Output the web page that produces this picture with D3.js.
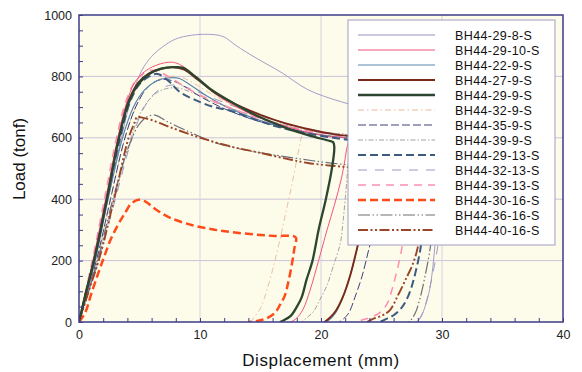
<!DOCTYPE html>
<html>
<head>
<meta charset="utf-8">
<script src="https://cdn.jsdelivr.net/npm/d3@7"></script>
<style>
  body { margin: 0; background: #fff; }
  svg { display: block; font-family: "Liberation Sans", Arial, sans-serif; }
</style>
</head>
<body>
<div id="chart"></div>
<script>
// load-displacement curves, [displacement (mm), load (tonf)]
const seriesNames = ["BH44-29-8-S", "BH44-29-10-S", "BH44-22-9-S", "BH44-27-9-S", "BH44-29-9-S",
  "BH44-32-9-S", "BH44-35-9-S", "BH44-39-9-S", "BH44-29-13-S", "BH44-32-13-S",
  "BH44-39-13-S", "BH44-30-16-S", "BH44-36-16-S", "BH44-40-16-S"];

const s29_8 = [[0,0],[0.7,100],[1.4,220],[2.4,400],[3.5,600],[4.4,740],[5.2,820],[6.0,865],[6.9,896],[8.0,922],[9.3,934],[10.7,937],[11.9,930],[13.0,900],[14.5,863],[16.8,811],[18.9,757],[21.7,717],[24.5,690],[27,672],[29.3,662],[29.5,560],[29.6,420],[29.5,300],[29.3,200],[29.0,110],[28.6,50],[28.2,12],[27.9,0]];
const s29_10 = [[0,0],[0.6,100],[1.2,210],[2.2,400],[3.2,600],[3.9,710],[4.6,780],[5.4,815],[6.3,835],[7.2,845],[7.9,845],[8.7,830],[9.7,795],[11,750],[12.5,712],[14.5,672],[16.5,645],[18.5,622],[20.5,605],[22.2,595],[22.1,560],[21.7,470],[21.1,380],[20.5,300],[19.8,200],[19.1,104],[18.5,40],[18,13],[17.5,0]];
const s22_9 = [[0,0],[0.7,100],[1.4,210],[2.4,400],[3.6,600],[4.5,700],[5.4,755],[6.4,785],[7.4,795],[8.3,793],[9.2,772],[10.5,738],[12.5,695],[15,656],[17.5,628],[20,610],[22.5,598],[24.5,590],[24.4,520],[24,420],[23.5,320],[23,240],[22.4,150],[21.8,80],[21.2,30],[20.6,5],[20.2,0]];
const s27_9 = [[0,0],[0.6,100],[1.3,210],[2.3,400],[3.3,600],[4.1,720],[4.9,780],[5.8,810],[6.8,825],[7.8,830],[8.7,822],[9.8,790],[11.2,748],[13,708],[15,675],[17,648],[19,628],[21,612],[23,603],[24.2,598],[24.1,520],[23.8,420],[23.4,320],[23,244],[22.4,150],[21.8,81],[21.2,35],[20.7,13],[20.3,0]];
const s29_9 = [[0,0],[0.6,100],[1.3,210],[2.3,400],[3.3,600],[4.1,715],[4.9,775],[5.8,808],[6.8,825],[7.8,830],[8.6,828],[9.6,800],[11,755],[12.8,712],[14.8,670],[17,634],[19,608],[20.5,592],[21,586],[21.1,570],[20.9,500],[20.4,400],[19.8,300],[19.3,200],[18.8,137],[18.4,80],[18,49],[17.5,20],[16.9,5],[16.6,0]];
const s32_9 = [[0,0],[0.7,100],[1.5,210],[2.6,400],[3.8,600],[4.7,700],[5.6,760],[6.6,790],[7.6,800],[8.6,795],[9.8,770],[11.5,730],[13.5,692],[15.5,660],[17.5,630],[18.4,618],[18.3,590],[18.0,528],[17.5,430],[17,340],[16.5,250],[16,170],[15.5,100],[15,45],[14.5,16],[14.2,0]];
const s35_9 = [[0,0],[0.7,100],[1.5,210],[2.6,400],[3.8,600],[4.8,710],[5.8,770],[6.8,790],[7.8,785],[8.8,765],[10,735],[12,695],[14.5,658],[17,632],[19.5,612],[22,600],[25,590],[24.9,500],[24.7,400],[24.4,300],[24,244],[23.4,150],[22.8,80],[22.3,30],[21.8,8],[21.5,0]];
const s39_9 = [[0,0],[0.8,100],[1.6,210],[2.9,400],[4.3,600],[5.2,690],[6.2,740],[7.2,760],[8.2,762],[9.3,748],[10.8,722],[13,690],[15.5,658],[18,632],[20.5,614],[22.3,605],[22.2,500],[22,400],[21.8,320],[21.6,257],[21,180],[20.5,120],[19.9,72],[19.4,35],[18.8,13],[18.4,0]];
const s29_13 = [[0,0],[0.6,100],[1.3,210],[2.3,400],[3.4,600],[4.2,715],[5.0,775],[5.8,800],[6.5,808],[7.4,785],[8.3,750],[9.5,725],[11,702],[12.5,688],[14.5,660],[16.5,635],[18.9,614],[21,600],[23,590],[26,578],[28.5,572],[28.7,480],[28.6,380],[28.4,300],[28.2,234],[27.8,160],[27.4,104],[26.9,60],[26.5,39],[26,22],[25.5,12],[25.1,4],[24.8,0]];
const s32_13 = [[0,0],[0.8,100],[1.7,210],[3,400],[4.4,600],[5.4,700],[6.4,750],[7.4,770],[8.4,770],[9.5,755],[11,730],[13,700],[15.5,665],[18,638],[21,615],[24,600],[28,588],[30.2,582],[30.2,480],[30,380],[29.8,300],[29.6,234],[29.2,150],[28.8,80],[28.4,30],[28,5],[27.8,0]];
const s39_13 = [[0,0],[0.6,110],[1.2,220],[2.1,400],[3.1,600],[3.8,710],[4.5,775],[5.2,805],[5.9,820],[6.6,815],[7.6,795],[9,760],[10.8,725],[13,690],[15.5,655],[18,630],[21,610],[24,598],[27.2,588],[27.3,480],[27.1,380],[26.9,300],[26.7,244],[26.3,170],[25.9,110],[25.5,62],[25,35],[24.3,18],[23.5,8],[23,0]];
const s30_16 = [[0,0],[0.5,29],[1,90],[1.6,160],[2.1,215],[2.6,267],[3.2,315],[3.8,355],[4.3,385],[4.9,398],[5.5,392],[6.3,368],[7.5,340],[9.3,316],[11,302],[12.6,293],[14.5,285],[16.2,280],[17.9,276],[17.8,240],[17.6,190],[17.3,130],[17,85],[16.6,55],[16.2,30],[15.5,12],[14.8,4],[14,0]];
const s36_16 = [[0,0],[0.8,100],[1.6,210],[2.8,400],[4.1,570],[4.9,640],[5.6,668],[6.3,674],[7.2,655],[8.8,625],[11.2,585],[13.5,562],[16,545],[18.5,530],[21,517],[24,507],[27,500],[29.4,495],[29.4,400],[29.2,300],[29,234],[28.6,150],[28.2,80],[27.8,30],[27.4,5],[27.2,0]];
const s40_16 = [[0,0],[0.8,100],[1.7,210],[2.9,400],[4.1,600],[4.6,650],[4.8,668],[5.3,665],[6,658],[7.5,635],[9.8,603],[12.5,572],[15.1,550],[17,533],[18.9,518],[22,505],[25,495],[28.3,488],[28.3,400],[28.2,300],[28,244],[27.6,190],[27.1,147],[26.4,90],[25.7,39],[25,20],[24.3,10],[23.8,0]];

const seriesData = [s29_8, s29_10, s22_9, s27_9, s29_9, s32_9, s35_9, s39_9,
  s29_13, s32_13, s39_13, s30_16, s36_16, s40_16];

const xTicks = [0, 10, 20, 30, 40];
const yTicks = [0, 200, 400, 600, 800, 1000];

// line styles, same order as seriesNames
const seriesStyles = [
  { color: "#9a92c4", width: 0.9, dash: null },
  { color: "#f2557e", width: 1.0, dash: null },
  { color: "#5a86ad", width: 1.2, dash: null },
  { color: "#7a2818", width: 1.9, dash: null },
  { color: "#2c4630", width: 2.3, dash: null },
  { color: "#e8b89c", width: 0.9, dash: "6,3,1.5,3" },
  { color: "#3e3e7c", width: 1.0, dash: "8,3" },
  { color: "#a2a2aa", width: 1.0, dash: "5,2,1.5,2" },
  { color: "#3c5a80", width: 2.0, dash: "8,4" },
  { color: "#9c9ac8", width: 1.0, dash: "9,8" },
  { color: "#ff8eb0", width: 1.5, dash: "8,6" },
  { color: "#ff4a1a", width: 2.5, dash: "8,4" },
  { color: "#6e6e76", width: 1.2, dash: "12,2.5,1.5,2.5,1.5,2.5" },
  { color: "#9a4428", width: 1.9, dash: "10,2.5,2,2.5,2,2.5" }
];
const drawOrder = [0, 9, 7, 5, 12, 6, 2, 10, 1, 13, 8, 3, 11, 4];

const W = 582, H = 372;
const plot = { left: 79, right: 563, top: 15, bottom: 322 };

const svg = d3.select("#chart").append("svg")
  .attr("width", W)
  .attr("height", H);

const x = d3.scaleLinear().domain([0, 40]).range([plot.left, plot.right]);
const y = d3.scaleLinear().domain([0, 1000]).range([plot.bottom, plot.top]);

svg.append("rect")
  .attr("x", plot.left).attr("y", plot.top)
  .attr("width", plot.right - plot.left)
  .attr("height", plot.bottom - plot.top)
  .attr("fill", "#fdfcea");

svg.append("defs").append("clipPath").attr("id", "clip")
  .append("rect")
  .attr("x", plot.left).attr("y", plot.top)
  .attr("width", plot.right - plot.left)
  .attr("height", plot.bottom - plot.top);

// grid
svg.append("g")
  .selectAll("line.hg")
  .data(yTicks.slice(1, -1))
  .join("line")
  .attr("x1", plot.left).attr("x2", plot.right)
  .attr("y1", d => y(d)).attr("y2", d => y(d))
  .attr("stroke", "#cbc3d9").attr("stroke-width", 1);

svg.append("g")
  .selectAll("line.vg")
  .data(xTicks.slice(1, -1))
  .join("line")
  .attr("y1", plot.top).attr("y2", plot.bottom)
  .attr("x1", d => x(d)).attr("x2", d => x(d))
  .attr("stroke", "#d6d0dc").attr("stroke-width", 1);

// curves
const line = d3.line()
  .x(d => x(d[0]))
  .y(d => y(d[1]))
  .curve(d3.curveCatmullRom.alpha(0.5));

const curves = svg.append("g").attr("clip-path", "url(#clip)");
drawOrder.forEach(i => {
  const st = seriesStyles[i];
  curves.append("path")
    .datum(seriesData[i])
    .attr("d", line)
    .attr("fill", "none")
    .attr("stroke", st.color)
    .attr("stroke-width", st.width)
    .attr("stroke-dasharray", st.dash)
    .attr("stroke-linejoin", "round");
});

// axes
const axisColor = "#3c3c88";

const xAxis = svg.append("g")
  .attr("transform", `translate(0,${plot.bottom})`)
  .call(d3.axisBottom(x).tickValues(xTicks).tickFormat(d3.format("d")).tickSize(0).tickPadding(8));
const yAxis = svg.append("g")
  .attr("transform", `translate(${plot.left},0)`)
  .call(d3.axisLeft(y).tickValues(yTicks).tickFormat(d3.format("d")).tickSize(0).tickPadding(7));

[xAxis, yAxis].forEach(a => {
  a.select(".domain").remove();
  a.selectAll("text")
    .attr("fill", "#222")
    .style("font-size", "12.5px")
    .style("font-family", "'Liberation Sans', Arial, sans-serif");
});

// minor ticks pointing into the plot
svg.append("g")
  .attr("transform", `translate(0,${plot.bottom})`)
  .call(d3.axisBottom(x).ticks(20).tickSize(-4).tickFormat(""))
  .call(g => g.select(".domain").remove())
  .selectAll("line").attr("stroke", axisColor);

svg.append("g")
  .attr("transform", `translate(${plot.left},0)`)
  .call(d3.axisLeft(y).ticks(25).tickSize(-4).tickFormat(""))
  .call(g => g.select(".domain").remove())
  .selectAll("line").attr("stroke", axisColor);

svg.append("rect")
  .attr("x", plot.left).attr("y", plot.top)
  .attr("width", plot.right - plot.left)
  .attr("height", plot.bottom - plot.top)
  .attr("fill", "none")
  .attr("stroke", axisColor)
  .attr("stroke-width", 1.5);

// axis titles
svg.append("text")
  .attr("x", (plot.left + plot.right) / 2)
  .attr("y", 366)
  .attr("text-anchor", "middle")
  .style("font-size", "17px")
  .style("letter-spacing", "0.6px")
  .attr("fill", "#111")
  .text("Displacement (mm)");

svg.append("text")
  .attr("transform", "translate(25,159) rotate(-90)")
  .attr("text-anchor", "middle")
  .style("font-size", "17px")
  .attr("fill", "#111")
  .text("Load (tonf)");

// legend
const legend = svg.append("g");
legend.append("rect")
  .attr("x", 348).attr("y", 20)
  .attr("width", 207).attr("height", 225)
  .attr("fill", "#fff")
  .attr("stroke", "#a09cc0")
  .attr("stroke-width", 1);

const rows = legend.selectAll("g.row")
  .data(seriesNames)
  .join("g")
  .attr("transform", (d, i) => `translate(0,${35 + i * 15})`);

rows.append("line")
  .attr("x1", 358).attr("x2", 435)
  .attr("y1", 0).attr("y2", 0)
  .attr("stroke", (d, i) => seriesStyles[i].color)
  .attr("stroke-width", (d, i) => Math.max(seriesStyles[i].width, 1.2))
  .attr("stroke-dasharray", (d, i) => seriesStyles[i].dash);

rows.append("text")
  .attr("x", 455)
  .attr("y", 4.5)
  .style("font-size", "12.5px")
  .style("letter-spacing", "0.4px")
  .attr("fill", "#111")
  .text(d => d);
</script>
</body>
</html>
